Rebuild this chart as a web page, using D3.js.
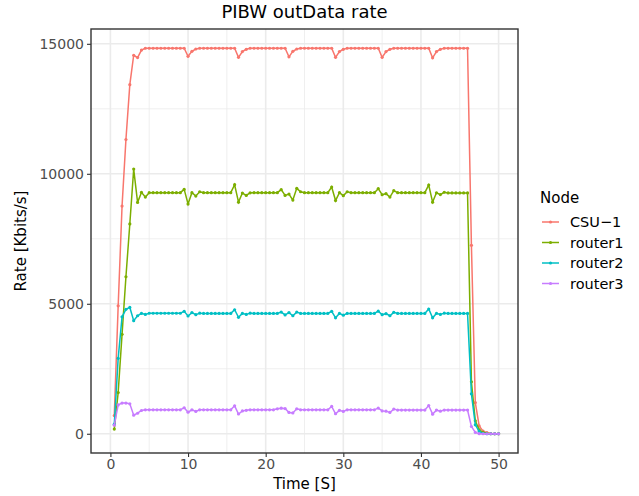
<!DOCTYPE html>
<html>
<head>
<meta charset="utf-8">
<script src="https://cdn.jsdelivr.net/npm/d3@7"></script>
<style>
  body { margin: 0; background: #fff; }
  text { font-family: "DejaVu Sans", sans-serif; }
</style>
</head>
<body>
<div id="chart"></div>
<script>
// sample times (s)
var times = [0.5, 1, 1.5, 2, 2.5, 3, 3.5, 4, 4.5, 5, 5.5, 6, 6.5, 7, 7.5, 8, 8.5, 9, 9.5, 10,
    10.5, 11, 11.5, 12, 12.5, 13, 13.5, 14, 14.5, 15, 15.5, 16, 16.5, 17, 17.5, 18, 18.5, 19, 19.5, 20,
    20.5, 21, 21.5, 22, 22.5, 23, 23.5, 24, 24.5, 25, 25.5, 26, 26.5, 27, 27.5, 28, 28.5, 29, 29.5, 30,
    30.5, 31, 31.5, 32, 32.5, 33, 33.5, 34, 34.5, 35, 35.5, 36, 36.5, 37, 37.5, 38, 38.5, 39, 39.5, 40,
    40.5, 41, 41.5, 42, 42.5, 43, 43.5, 44, 44.5, 45, 45.5, 46, 46.5, 47, 47.5, 48, 48.5, 49, 49.5, 50];

var nodes = ["CSU\u22121", "router1", "router2", "router3"];
var colors = ["#F8766D", "#7CAE00", "#00BFC4", "#C77CFF"];

var csu1 = [700, 4920, 8760, 11320, 13430, 14560, 14470, 14760, 14830,
    14830, 14830, 14830, 14830, 14830, 14830, 14830, 14830, 14830, 14830,
    14520, 14710, 14800,
    14830, 14830, 14830, 14830, 14830, 14830, 14830, 14830, 14830, 14830,
    14480, 14700, 14790,
    14830, 14830, 14830, 14830, 14830, 14830, 14830, 14830, 14830, 14830,
    14500, 14710, 14800,
    14830, 14830, 14830, 14830, 14830, 14830, 14830, 14830, 14830,
    14480, 14700, 14790,
    14830, 14830, 14830, 14830, 14830, 14830, 14830, 14830, 14830,
    14480, 14700, 14790,
    14830, 14830, 14830, 14830, 14830, 14830, 14830, 14830, 14830, 14830,
    14460, 14700, 14790,
    14830, 14830, 14830, 14830, 14830, 14830, 14830,
    7250, 1200, 300, 100, 40, 10, 0, 0];

var router1 = [180, 1585, 3825, 6040, 8070, 10180, 8900, 9285, 9105,
    9275, 9275, 9275, 9275, 9275, 9275, 9275, 9275, 9275, 9400,
    8840, 9275, 9145, 9310,
    9275, 9275, 9275, 9275, 9275, 9275, 9275, 9275, 9580,
    8910, 9260, 9170, 9270,
    9275, 9275, 9275, 9275, 9275, 9275, 9275,
    9390, 9170, 9220, 8990, 9440, 9310,
    9275, 9275, 9275, 9275, 9275, 9275, 9275,
    9490, 8970, 9275, 9160, 9310,
    9275, 9275, 9275, 9275, 9275, 9275, 9275,
    9430, 9195, 9235, 9105, 9350,
    9275, 9275, 9275, 9275, 9275, 9275, 9275, 9275,
    9570, 8910, 9270, 9200, 9290,
    9265, 9265, 9265, 9265, 9265, 9265,
    2000, 500, 150, 50, 15, 0, 0, 0];

var router2 = [370, 2900, 4500, 4785, 4860, 4350, 4540, 4630, 4590,
    4635, 4635, 4635, 4635, 4635, 4635, 4635, 4635, 4635, 4710,
    4530, 4660, 4580, 4640,
    4630, 4630, 4630, 4630, 4630, 4630, 4630, 4630, 4770,
    4480, 4630, 4590, 4640,
    4630, 4630, 4630, 4630, 4630, 4630, 4630,
    4680, 4570, 4660, 4540, 4680, 4630,
    4630, 4630, 4630, 4630, 4630, 4630, 4630,
    4710, 4460, 4630, 4560, 4630,
    4630, 4630, 4630, 4630, 4630, 4630, 4630,
    4715, 4580, 4620, 4540, 4670,
    4630, 4630, 4630, 4630, 4630, 4630, 4630, 4630,
    4800, 4460, 4630, 4590, 4640,
    4630, 4630, 4630, 4630, 4630, 4630,
    1535, 345, 90, 20, 0, 0, 0, 0];

var router3 = [330, 1110, 1180, 1180, 1150, 715, 790, 895, 920,
    920, 920, 920, 920, 920, 920, 920, 920, 920, 1000,
    830, 920, 860, 920,
    920, 920, 920, 920, 920, 920, 920, 920, 1075,
    760, 880, 900, 920,
    920, 920, 920, 920, 920, 920,
    960, 985, 970, 820, 800, 960, 920,
    920, 920, 920, 920, 920, 920, 920,
    1050, 770, 900, 860, 920,
    920, 920, 920, 920, 920, 920, 920,
    990, 880, 870, 820, 950,
    910, 910, 910, 910, 910, 910, 910, 910,
    1085, 755, 910, 870, 910,
    910, 910, 910, 910, 910, 910,
    280, 50, 5, 0, 0, 0, 0, 0];

var xTicks = [0, 10, 20, 30, 40, 50];
var xMinor = [5, 15, 25, 35, 45];
var yTicks = [0, 5000, 10000, 15000];
var yMinor = [2500, 7500, 12500];

var series = [csu1, router1, router2, router3];

var W = 639, H = 496;
var margin = { top: 29, right: 121, bottom: 43, left: 91 },
    width = W - margin.left - margin.right,
    height = H - margin.top - margin.bottom;

var svg = d3.select("#chart")
    .append("svg")
    .attr("width", W)
    .attr("height", H);

var g = svg.append("g")
    .attr("transform", "translate(" + margin.left + "," + margin.top + ")");

var x = d3.scaleLinear()
    .domain([-2.5, 52.5])
    .range([0, width]);

var y = d3.scaleLinear()
    .domain([-740, 15570])
    .range([height, 0]);

// panel background + grid
g.append("rect")
    .attr("width", width)
    .attr("height", height)
    .attr("fill", "#fff");

g.selectAll(".xminor").data(xMinor).enter().append("line")
    .attr("x1", function (d) { return x(d); })
    .attr("x2", function (d) { return x(d); })
    .attr("y1", 0).attr("y2", height)
    .attr("stroke", "#EBEBEB").attr("stroke-width", 0.8);

g.selectAll(".yminor").data(yMinor).enter().append("line")
    .attr("y1", function (d) { return y(d); })
    .attr("y2", function (d) { return y(d); })
    .attr("x1", 0).attr("x2", width)
    .attr("stroke", "#EBEBEB").attr("stroke-width", 0.8);

g.selectAll(".xmajor").data(xTicks).enter().append("line")
    .attr("x1", function (d) { return x(d); })
    .attr("x2", function (d) { return x(d); })
    .attr("y1", 0).attr("y2", height)
    .attr("stroke", "#EBEBEB").attr("stroke-width", 1.6);

g.selectAll(".ymajor").data(yTicks).enter().append("line")
    .attr("y1", function (d) { return y(d); })
    .attr("y2", function (d) { return y(d); })
    .attr("x1", 0).attr("x2", width)
    .attr("stroke", "#EBEBEB").attr("stroke-width", 1.6);

// lines and points
var line = d3.line()
    .x(function (d, i) { return x(times[i]); })
    .y(function (d) { return y(d); });

series.forEach(function (s, k) {
    g.append("path")
        .datum(s)
        .attr("fill", "none")
        .attr("stroke", colors[k])
        .attr("stroke-width", 1.5)
        .attr("d", line);

    g.selectAll(".pt" + k)
        .data(s)
        .enter().append("circle")
        .attr("cx", function (d, i) { return x(times[i]); })
        .attr("cy", function (d) { return y(d); })
        .attr("r", 1.6)
        .attr("fill", colors[k]);
});

// panel border
g.append("rect")
    .attr("width", width)
    .attr("height", height)
    .attr("fill", "none")
    .attr("stroke", "#333333")
    .attr("stroke-width", 1.4);

// axes
var xAxis = g.append("g")
    .attr("transform", "translate(0," + height + ")")
    .call(d3.axisBottom(x).tickValues(xTicks).tickSize(4).tickPadding(2));

var yAxis = g.append("g")
    .call(d3.axisLeft(y).tickValues(yTicks).tickSize(4).tickPadding(3).tickFormat(d3.format("d")));

[xAxis, yAxis].forEach(function (a) {
    a.select(".domain").remove();
    a.selectAll("line").attr("stroke", "#333333").attr("stroke-width", 1.1);
    a.selectAll("text")
        .attr("fill", "#4D4D4D")
        .style("font-size", "14px")
        .style("font-family", "DejaVu Sans, sans-serif");
});

// titles
svg.append("text")
    .attr("x", margin.left + width / 2)
    .attr("y", 18)
    .attr("text-anchor", "middle")
    .style("font-size", "18px")
    .attr("fill", "#000")
    .text("PIBW outData rate");

svg.append("text")
    .attr("x", margin.left + width / 2)
    .attr("y", 489)
    .attr("text-anchor", "middle")
    .style("font-size", "15px")
    .text("Time [S]");

svg.append("text")
    .attr("transform", "translate(26," + (margin.top + height / 2) + ") rotate(-90)")
    .attr("text-anchor", "middle")
    .style("font-size", "15px")
    .text("Rate [Kbits/s]");

// legend
var legend = svg.append("g")
    .attr("transform", "translate(540,0)");

legend.append("text")
    .attr("x", 0)
    .attr("y", 203)
    .style("font-size", "15px")
    .text("Node");

nodes.forEach(function (n, k) {
    var yy = 222 + k * 20.5;
    legend.append("line")
        .attr("x1", 2).attr("x2", 19)
        .attr("y1", yy).attr("y2", yy)
        .attr("stroke", colors[k]).attr("stroke-width", 1.5);
    legend.append("circle")
        .attr("cx", 10.5).attr("cy", yy).attr("r", 1.6)
        .attr("fill", colors[k]);
    legend.append("text")
        .attr("x", 30)
        .attr("y", yy + 5)
        .style("font-size", "14.5px")
        .text(n);
});
</script>
</body>
</html>
